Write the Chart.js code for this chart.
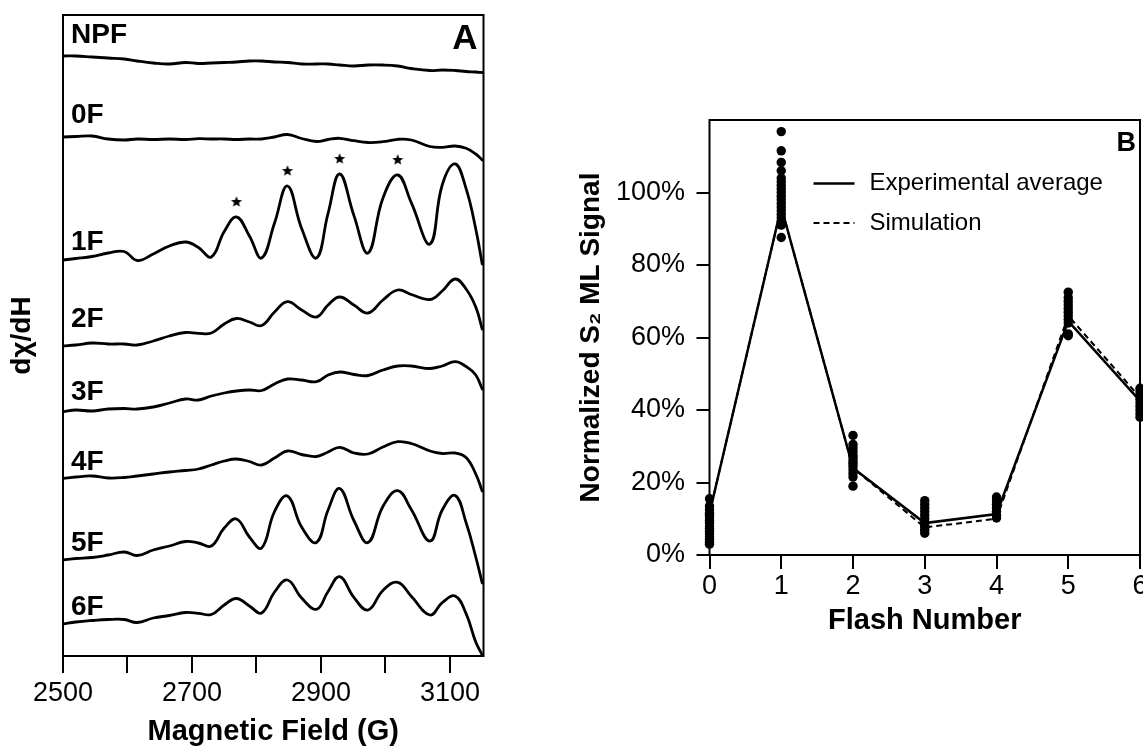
<!DOCTYPE html>
<html><head><meta charset="utf-8">
<script src="https://cdn.jsdelivr.net/npm/chart.js@4"></script>
<style>
html,body{margin:0;padding:0;background:#fff;overflow:hidden;width:1143px;height:746px;}
#wa{position:absolute;left:0;top:0;width:540px;height:746px;}
#wb{position:absolute;left:540px;top:0;width:640px;height:746px;}
</style></head><body>
<div id="wa"><canvas id="ca"></canvas></div>
<div id="wb"><canvas id="cb"></canvas></div>
<script>
// ---------------- Panel A data (EPR spectra, arbitrary units) ----------------
const field = [2500,2520,2545,2570,2595,2615,2640,2665,2690,2710,2730,2750,2769,2789,2808,2828,2848,2870,2893,2911,2929,2951,2973,2996,3019,3040,3069,3088,3108,3125,3140,3150];
const traceNames = ['NPF','0F','1F','2F','3F','4F','5F','6F'];
const traceOffsets = [600,519,397,310,245,178,96,33];
const labelLevels = [621,541,414,337,264,194,113,49];
const specNPF = [0,0,-1,-2,-3,-5,-7,-8,-6.5,-7.5,-7,-6.5,-6,-5,-5,-6,-6.5,-8,-8,-8,-9,-10,-9,-9,-10,-12.5,-14.5,-14,-14.5,-15.5,-16,-16.5];
const spec0F  = [0,0.5,1,-2,-3,-2,-2.5,-2,-2.5,-1.7,-2,-2,-2.5,-2,-2,0,2.5,-1.5,-4.5,-2.5,-1.3,-3.7,-5.5,-4.7,-2.3,-3,-9.5,-10.3,-9,-11.3,-17,-23];
const spec1F  = [-1,0.5,2.5,6,7.5,-1.5,5,13,17,11.5,2,27.5,42,23,1,36,73,30.5,1,45.7,85,43.6,6,60.8,84,56.4,15,74,95,70.3,30,-5];
const spec2F  = [0,1,3,2,2,1,5,10,13.5,12.7,13,22,27.5,24,20.5,34,44.3,36,29,41,49,41,33,46,56,51.5,46.5,55,67,57,39,17];
const spec3F  = [-0.7,1,0,2,2.5,2,4,8,12,11,15,18,20,21,20.5,27,32,31,29.3,36,39,36.5,35.5,41,45,45,42.5,45,49.3,44.5,36,22];
const spec4F  = [-0.5,1,2,0,0.5,2,4,6,7.5,9,13,17,19,16.5,13,20,27,23.5,21.5,26,30.7,25,24,31,36.3,34.5,27,24.5,25,20.5,4,-13];
const spec5F  = [0,1.5,2.5,5,8,4.5,10,14,18.5,17,14,32,41,23,12,48.5,64,33,17.5,50,71.5,39.5,17.5,53.5,69.3,50.6,19,50,64.5,37.4,3,-23];
const spec6F  = [-1,1,2.5,3.5,3.5,0.5,5,7.5,10.5,9.7,8.5,18,24.5,17,10,31,43,25,13.7,31.5,46.3,25.7,13,32.6,40.7,26.7,8,20.3,27,9.4,-19,-32];
const spectra = [specNPF,spec0F,spec1F,spec2F,spec3F,spec4F,spec5F,spec6F];
const starredPeakIndex = [12,16,20,24];   // peaks of 1F marked with stars
const starLift = 15;
const fieldTicks = [2500,2600,2700,2800,2900,3000,3100];
const fieldTickLabels = ['2500','','2700','','2900','','3100'];

// ---------------- Panel B data ----------------
const flashNumbers = [0,1,2,3,4,5,6];
const experimentalAverage = [11.5,96,24,8.8,11.3,64.5,42.5];
const simulation = [11.5,96,24,7.6,10,66,43.5];
const measured0 = [15.5,13.5,12.5,11.5,11,10.2,9.5,8.8,8,7.3,6.5,5.8,5,4.3,3.5,3];
const measured1 = [116.8,111.5,108.3,106,104,103,102,101,100,99,98,97,96,95,94,93,92,91,87.6];
const measured2 = [33,30.5,29.5,28.5,27.5,26.8,26,25.3,24.5,23.5,22.5,21.5,19];
const measured3 = [15,14,13,12,11,10,9,8.2,7.5,6.8,6];
const measured4 = [16,15,14,13,12,11,10.2];
const measured5 = [72.5,71,70,69,68,67,66,65,64,61,60.5];
const measured6 = [46,45,44,43,42,41,40,39,38];
const measuredByFlash = [measured0,measured1,measured2,measured3,measured4,measured5,measured6];
const signalTicks = [0,20,40,60,80,100];
const legendLabels = ['Experimental average','Simulation'];

// ---------------- common ----------------
const FAM = '"Liberation Sans", Arial, Helvetica, sans-serif';
Chart.defaults.font.family = FAM;
Chart.defaults.color = '#000';

function makeStar(r){
  const s = Math.ceil(r*2)+2;
  const c = document.createElement('canvas'); c.width = s; c.height = s;
  const g = c.getContext('2d'); g.fillStyle = '#000'; g.beginPath();
  for (let k=0;k<10;k++){
    const rad = (k%2) ? r*0.45 : r;
    const a = -Math.PI/2 + k*Math.PI/5;
    g.lineTo(s/2 + rad*Math.cos(a), s/2 + rad*Math.sin(a));
  }
  g.closePath(); g.fill();
  return c;
}

const boxPlugin = {
  id: 'box',
  afterDatasetsDraw(chart){
    const {ctx, chartArea:a} = chart;
    ctx.save(); ctx.strokeStyle = '#000'; ctx.lineWidth = 2;
    ctx.strokeRect(a.left, a.top, a.right - a.left, a.bottom - a.top);
    ctx.restore();
  }
};

// ---------------- Chart A ----------------
const dsA = spectra.map((sp, t) => ({
  type: 'line',
  label: traceNames[t],
  data: field.map((f,i) => ({x: f, y: traceOffsets[t] + sp[i]})),
  borderColor: '#000', borderWidth: 2.8, pointRadius: 0,
  tension: 0.42, fill: false, borderJoinStyle: 'round', borderCapStyle: 'round'
}));
dsA.push({
  type: 'scatter',
  label: 'stars',
  data: starredPeakIndex.map(i => ({x: field[i], y: traceOffsets[2] + spec1F[i] + starLift})),
  pointStyle: makeStar(5.8), pointRadius: 6, showLine: false
});

const labelsA = {
  id: 'labelsA',
  afterDraw(chart){
    const {ctx, chartArea:a, scales} = chart;
    ctx.save(); ctx.fillStyle = '#000';
    ctx.font = 'bold 28px ' + FAM; ctx.textAlign = 'left'; ctx.textBaseline = 'middle';
    traceNames.forEach((n,i) => ctx.fillText(n, a.left + 8, scales.y.getPixelForValue(labelLevels[i])));
    ctx.font = 'bold 35px ' + FAM; ctx.textAlign = 'right';
    ctx.fillText('A', a.right - 6, a.top + 24);
    ctx.restore();
  }
};

new Chart(document.getElementById('ca'), {
  type: 'line',
  data: { datasets: dsA },
  options: {
    responsive: true, maintainAspectRatio: false, animation: false, devicePixelRatio: 1,
    layout: { padding: { left: 0, top: 15, right: 56.5, bottom: 0 } },
    plugins: { legend: { display: false }, tooltip: { enabled: false } },
    scales: {
      x: {
        type: 'linear', min: 2500, max: 3152,
        afterBuildTicks: s => { s.ticks = fieldTicks.map(v => ({value: v})); },
        afterFit: s => { s.height = 90; },
        ticks: { autoSkip: false, maxRotation: 0, padding: 4, color: '#000',
                 font: { size: 27 },
                 callback: v => fieldTickLabels[fieldTicks.indexOf(v)] ?? '' },
        grid: { display: true, drawOnChartArea: false, drawTicks: true, tickLength: 17, color: '#000', lineWidth: 2 },
        border: { display: false },
        title: { display: true, text: 'Magnetic Field (G)', color: '#000',
                 font: { size: 29, weight: 'bold', lineHeight: 1 }, padding: { top: 0, bottom: 0 } }
      },
      y: {
        type: 'linear', min: 0, max: 641,
        afterFit: s => { s.width = 63; },
        ticks: { display: false },
        grid: { display: false },
        border: { display: false },
        title: { display: true, text: 'dχ/dH', color: '#000',
                 font: { size: 28, weight: 'bold' }, padding: { top: 5, bottom: 0 } }
      }
    }
  },
  plugins: [boxPlugin, labelsA]
});

// ---------------- Chart B ----------------
const scatterPts = [];
measuredByFlash.forEach((arr, f) => arr.forEach(v => scatterPts.push({x: flashNumbers[f], y: v})));

const legendB = {
  id: 'legendB',
  afterDraw(chart){
    const {ctx, chartArea:a} = chart;
    ctx.save(); ctx.strokeStyle = '#000'; ctx.fillStyle = '#000';
    const rows = [a.top + 63.5, a.top + 103];
    const x0 = a.left + 104, x1 = a.left + 145, tx = a.left + 160;
    ctx.lineWidth = 2.5; ctx.setLineDash([]);
    ctx.beginPath(); ctx.moveTo(x0, rows[0]); ctx.lineTo(x1, rows[0]); ctx.stroke();
    ctx.lineWidth = 2; ctx.setLineDash([6,4]);
    ctx.beginPath(); ctx.moveTo(x0, rows[1]); ctx.lineTo(x1, rows[1]); ctx.stroke();
    ctx.setLineDash([]);
    ctx.font = '24px ' + FAM; ctx.textAlign = 'left'; ctx.textBaseline = 'middle';
    ctx.fillText(legendLabels[0], tx, rows[0]);
    ctx.fillText(legendLabels[1], tx, rows[1]);
    ctx.font = 'bold 27px ' + FAM; ctx.textAlign = 'right';
    ctx.fillText('B', a.right - 4, a.top + 24);
    ctx.restore();
  }
};

new Chart(document.getElementById('cb'), {
  type: 'line',
  data: {
    datasets: [
      { type: 'scatter', label: 'measurements', data: scatterPts, pointRadius: 4.7,
        backgroundColor: '#000', borderColor: '#000', borderWidth: 0, showLine: false, clip: false },
      { type: 'line', label: legendLabels[0], data: flashNumbers.map((f,i) => ({x: f, y: experimentalAverage[i]})),
        borderColor: '#000', borderWidth: 2.5, pointRadius: 0, tension: 0, fill: false },
      { type: 'line', label: legendLabels[1], data: flashNumbers.map((f,i) => ({x: f, y: simulation[i]})),
        borderColor: '#000', borderWidth: 2, borderDash: [6,4], pointRadius: 0, tension: 0, fill: false }
    ]
  },
  options: {
    responsive: true, maintainAspectRatio: false, animation: false, devicePixelRatio: 1,
    layout: { padding: { left: 0, top: 120, right: 40, bottom: 106 } },
    plugins: { legend: { display: false }, tooltip: { enabled: false } },
    scales: {
      x: {
        type: 'linear', min: 0, max: 6,
        afterBuildTicks: s => { s.ticks = flashNumbers.map(v => ({value: v})); },
        afterFit: s => { s.height = 85; },
        ticks: { autoSkip: false, maxRotation: 0, padding: 1, color: '#000', font: { size: 27 } },
        grid: { display: true, drawOnChartArea: false, drawTicks: true, tickLength: 14, color: '#000', lineWidth: 2 },
        border: { display: false },
        title: { display: true, text: 'Flash Number', color: '#000',
                 font: { size: 29, weight: 'bold', lineHeight: 1 }, padding: { top: 0, bottom: 4.5 } }
      },
      y: {
        type: 'linear', min: 0, max: 120,
        afterBuildTicks: s => { s.ticks = signalTicks.map(v => ({value: v})); },
        afterFit: s => { s.width = 169.5; },
        ticks: { padding: 11.5, color: '#000', font: { size: 27 }, callback: v => v + '%' },
        grid: { display: true, drawOnChartArea: false, drawTicks: true, tickLength: 13, color: '#000', lineWidth: 2 },
        border: { display: false },
        title: { display: true, text: 'Normalized S₂ ML Signal', color: '#000',
                 font: { size: 28, weight: 'bold' }, padding: { top: 34, bottom: 0 } }
      }
    }
  },
  plugins: [boxPlugin, legendB]
});
</script>
</body></html>
